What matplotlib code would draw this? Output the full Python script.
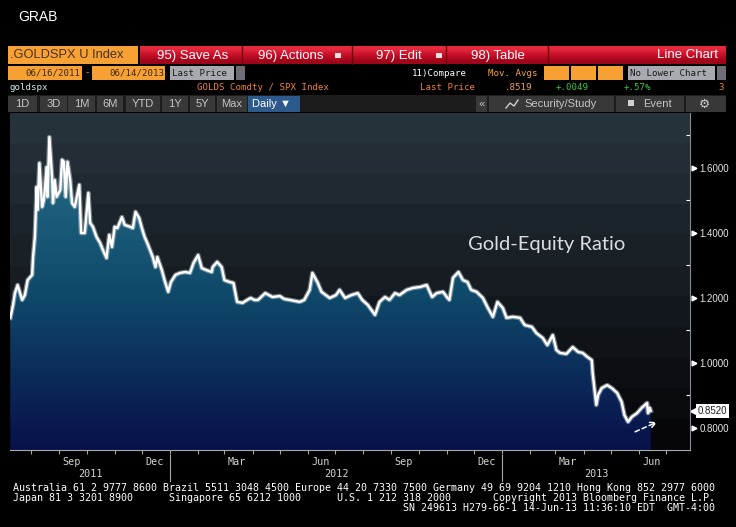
import numpy as np
import pandas as pd
import matplotlib
matplotlib.use("Agg")
import matplotlib.pyplot as plt
import matplotlib.dates as mdates
from matplotlib.patches import Rectangle

plt.rcParams['font.family'] = ['Liberation Sans', 'DejaVu Sans']

# GOLDS Comdty / SPX Index
dates = ["2011-07-09", "2011-07-12", "2011-07-14", "2011-07-17", "2011-07-22", "2011-07-25",
         "2011-07-28", "2011-08-02", "2011-08-03", "2011-08-05", "2011-08-07", "2011-08-08",
         "2011-08-10", "2011-08-13", "2011-08-15", "2011-08-18", "2011-08-19", "2011-08-21",
         "2011-08-24", "2011-08-25", "2011-08-27", "2011-08-29", "2011-09-02", "2011-09-04",
         "2011-09-06", "2011-09-08", "2011-09-10", "2011-09-13", "2011-09-15", "2011-09-18",
         "2011-09-23", "2011-09-25", "2011-09-29", "2011-10-03", "2011-10-05", "2011-10-08",
         "2011-10-12", "2011-10-16", "2011-10-19", "2011-10-23", "2011-10-26", "2011-10-29",
         "2011-11-01", "2011-11-04", "2011-11-09", "2011-11-12", "2011-11-18", "2011-11-21",
         "2011-11-24", "2011-11-28", "2011-12-01", "2011-12-04", "2011-12-07", "2011-12-13",
         "2011-12-16", "2011-12-18", "2011-12-23", "2011-12-26", "2011-12-30", "2012-01-02",
         "2012-01-07", "2012-01-12", "2012-01-18", "2012-01-23", "2012-01-27", "2012-02-01",
         "2012-02-05", "2012-02-10", "2012-02-16", "2012-02-17", "2012-02-22", "2012-02-27",
         "2012-03-01", "2012-03-07", "2012-03-11", "2012-03-15", "2012-03-21", "2012-03-26",
         "2012-03-30", "2012-04-03", "2012-04-07", "2012-04-15", "2012-04-23", "2012-05-01",
         "2012-05-06", "2012-05-12", "2012-05-23", "2012-05-28", "2012-06-03", "2012-06-06",
         "2012-06-12", "2012-06-16", "2012-06-25", "2012-07-02", "2012-07-06", "2012-07-12",
         "2012-07-19", "2012-07-26", "2012-07-31", "2012-08-06", "2012-08-14", "2012-08-19",
         "2012-08-25", "2012-08-30", "2012-09-05", "2012-09-10", "2012-09-18", "2012-09-25",
         "2012-10-03", "2012-10-10", "2012-10-16", "2012-10-21", "2012-10-28", "2012-11-02",
         "2012-11-04", "2012-11-08", "2012-11-14", "2012-11-19", "2012-11-24", "2012-11-28",
         "2012-12-04", "2012-12-11", "2012-12-16", "2012-12-22", "2012-12-27", "2013-01-02",
         "2013-01-06", "2013-01-13", "2013-01-21", "2013-01-26", "2013-02-03", "2013-02-08",
         "2013-02-15", "2013-02-20", "2013-02-26", "2013-03-02", "2013-03-06", "2013-03-13",
         "2013-03-20", "2013-03-26", "2013-03-31", "2013-04-05", "2013-04-10", "2013-04-11",
         "2013-04-15", "2013-04-17", "2013-04-21", "2013-04-27", "2013-05-02", "2013-05-08",
         "2013-05-13", "2013-05-16", "2013-05-20", "2013-05-24", "2013-05-30", "2013-06-04",
         "2013-06-10", "2013-06-11", "2013-06-13", "2013-06-14"]
ratio = [1.138, 1.178, 1.214, 1.239, 1.193, 1.208,
         1.254, 1.270, 1.325, 1.387, 1.541, 1.470,
         1.614, 1.479, 1.501, 1.602, 1.510, 1.694,
         1.571, 1.491, 1.562, 1.510, 1.531, 1.624,
         1.618, 1.510, 1.618, 1.562, 1.491, 1.479,
         1.547, 1.399, 1.399, 1.522, 1.430, 1.418,
         1.387, 1.368, 1.347, 1.322, 1.393, 1.356,
         1.418, 1.414, 1.448, 1.424, 1.418, 1.414,
         1.464, 1.445, 1.414, 1.387, 1.368, 1.325,
         1.294, 1.325, 1.285, 1.254, 1.218, 1.248,
         1.270, 1.276, 1.279, 1.276, 1.307, 1.331,
         1.291, 1.285, 1.279, 1.294, 1.310, 1.294,
         1.254, 1.248, 1.245, 1.187, 1.184, 1.193,
         1.199, 1.193, 1.193, 1.214, 1.202, 1.205,
         1.196, 1.193, 1.187, 1.193, 1.224, 1.276,
         1.245, 1.218, 1.199, 1.208, 1.224, 1.199,
         1.208, 1.214, 1.193, 1.178, 1.147, 1.187,
         1.202, 1.193, 1.214, 1.208, 1.224, 1.230,
         1.233, 1.239, 1.202, 1.214, 1.218, 1.199,
         1.193, 1.261, 1.279, 1.254, 1.248, 1.224,
         1.218, 1.199, 1.171, 1.141, 1.187, 1.168,
         1.138, 1.141, 1.138, 1.116, 1.110, 1.091,
         1.076, 1.054, 1.085, 1.039, 1.030, 1.027,
         1.048, 1.033, 1.030, 1.018, 1.008, 0.968,
         0.870, 0.901, 0.922, 0.931, 0.922, 0.907,
         0.879, 0.839, 0.818, 0.833, 0.845, 0.861,
         0.876, 0.845, 0.861, 0.852]

y_major = [0.8, 1.0, 1.2, 1.4, 1.6]
y_minor = [0.9, 1.1, 1.3, 1.5, 1.7]
month_labels = ["Sep", "Dec", "Mar", "Jun", "Sep", "Dec", "Mar", "Jun"]
month_label_dates = ["2011-09-15", "2011-12-15", "2012-03-15", "2012-06-15",
                     "2012-09-15", "2012-12-15", "2013-03-15", "2013-06-15"]
year_labels = ["2011", "2012", "2013"]
year_starts = ["2012-01-01", "2013-01-01"]

footer = [
    "Australia 61 2 9777 8600 Brazil 5511 3048 4500 Europe 44 20 7330 7500 Germany 49 69 9204 1210 Hong Kong 852 2977 6000",
    "Japan 81 3 3201 8900      Singapore 65 6212 1000      U.S. 1 212 318 2000       Copyright 2013 Bloomberg Finance L.P.",
    "                                                                 SN 249613 H279-66-1 14-Jun-13 11:36:10 EDT  GMT-4:00",
]

ORANGE = '#f7a134'
mono = 'DejaVu Sans Mono'
small = 6.6

fig = plt.figure(figsize=(7.36, 5.27), dpi=100, facecolor='black')

# ---------- terminal frame (pixel coordinates) ----------
bg = fig.add_axes([0, 0, 1, 1])
bg.axis('off')


def box(x0, y0, x1, y1, color):
    bg.add_patch(Rectangle((x0, y0), x1 - x0, y1 - y0, facecolor=color, edgecolor='none'))


bg.text(18, 17, "GRAB", color='white', fontsize=10, va='center')

# red title bar
box(8, 46, 138, 64, ORANGE)
bg.text(10, 55.5, ".GOLDSPX U Index", color='#4a3222', fontsize=9.3, va='center')
red = np.array([[[0.90, 0.16, 0.24]], [[0.78, 0.06, 0.16]], [[0.62, 0.02, 0.10]]])
bg.imshow(red, extent=(140, 726, 64, 46), aspect='auto', interpolation='bilinear')
for xs in [242, 352, 446, 548]:
    bg.plot([xs, xs], [46, 64], color='#6a0010', lw=1)
for label, xt in [("95) Save As", 157), ("96) Actions", 258), ("97) Edit", 376), ("98) Table", 471)]:
    bg.text(xt, 55.5, label, color='white', fontsize=9.5, va='center')
for xd in [335, 436]:
    box(xd, 53, xd + 6, 58, '#f0e0e0')
bg.text(718, 55.5, "Line Chart", color='white', fontsize=9.5, va='center', ha='right')

# date range row
box(8, 66, 82, 80, ORANGE)
bg.text(80, 73, "06/16/2011", color='#3a2a1a', fontsize=small, family=mono, va='center', ha='right')
bg.text(84, 73, "-", color=ORANGE, fontsize=small, family=mono, va='center')
box(92, 66, 165, 80, ORANGE)
bg.text(164, 73, "06/14/2013", color='#3a2a1a', fontsize=small, family=mono, va='center', ha='right')
box(170, 66, 234, 80, '#a9a9b0')
bg.text(172, 73, "Last Price", color='#1a1a1a', fontsize=small, family=mono, va='center')
box(236, 66, 245, 80, '#6e6e74')
bg.text(412, 73, "11)Compare", color='white', fontsize=small, family=mono, va='center')
bg.text(488, 73, "Mov. Avgs", color=ORANGE, fontsize=small, family=mono, va='center')
for xo in [544, 571, 598]:
    box(xo, 66, xo + 25, 80, ORANGE)
box(628, 66, 715, 80, '#a9a9b0')
bg.text(630, 73, "No Lower Chart", color='#1a1a1a', fontsize=small, family=mono, va='center')
box(717, 66, 726, 80, '#6e6e74')

# security row
bg.text(10, 88, "goldspx", color='#cdeeee', fontsize=small, family=mono, va='center')
bg.text(197, 88, "GOLDS Comdty / SPX Index", color='#f0803a', fontsize=small, family=mono, va='center')
bg.text(420, 88, "Last Price", color='#f0803a', fontsize=small, family=mono, va='center')
bg.text(505, 88, ".8519", color='#f0a060', fontsize=small, family=mono, va='center')
bg.text(556, 88, "+.0049", color='#3cc83c', fontsize=small, family=mono, va='center')
bg.text(624, 88, "+.57%", color='#3cc83c', fontsize=small, family=mono, va='center')
bg.text(724, 88, "3", color='#f0803a', fontsize=small, family=mono, va='center', ha='right')

# period buttons
box(8, 95, 726, 112, '#1c1c1c')
for label, x0, x1 in [("1D", 8, 37), ("3D", 40, 67), ("1M", 68, 95), ("6M", 97, 123),
                      ("YTD", 126, 160), ("1Y", 162, 188), ("5Y", 190, 215), ("Max", 217, 247)]:
    box(x0, 96, x1, 112, '#383838')
    bg.text((x0 + x1) / 2, 104, label, color='#c4c4c4', fontsize=8, va='center', ha='center')
box(248, 96, 300, 112, '#2c5a8c')
bg.text(252, 104, "Daily \u25bc", color='white', fontsize=8, va='center')
box(476, 96, 487, 112, '#383838')
bg.text(481.5, 104, "\u00ab", color='#c4c4c4', fontsize=8, va='center', ha='center')
box(489, 96, 614, 112, '#383838')
bg.plot([506, 510, 514, 518], [108, 103, 106, 100], color='#d0d0d0', lw=1)
bg.text(524, 104, "Security/Study", color='#c4c4c4', fontsize=8, va='center')
box(616, 96, 684, 112, '#383838')
box(628, 100, 634, 106, '#d0d0d0')
bg.text(643, 104, "Event", color='#c4c4c4', fontsize=8, va='center')
box(686, 96, 726, 112, '#383838')
bg.text(704, 104, "\u2699", color='#d0d0d0', fontsize=9, va='center', ha='center', family='DejaVu Sans')

# footer
for i, line in enumerate(footer):
    bg.text(13, 488 + 10 * i, line, color='white', fontsize=7.2, family=mono, va='center')

bg.set_xlim(0, 736)
bg.set_ylim(527, 0)

# ---------- chart ----------
ax = fig.add_axes([10 / 736, 77 / 527, 680 / 736, 337 / 527])
x = mdates.date2num(pd.to_datetime(dates))
y = np.array(ratio)

jan12 = mdates.date2num(pd.Timestamp(year_starts[0]))
jan13 = mdates.date2num(pd.Timestamp(year_starts[1]))
x0, x1 = jan12 - 176.4, jan13 + 207.3
y0, y1 = 0.7314, 1.768
ax.set_xlim(x0, x1)
ax.set_ylim(y0, y1)
ax.set_facecolor('black')

# banded background
n_bands = 11
top, bot = np.array([38, 50, 58]) / 255, np.array([6, 6, 10]) / 255
bands = np.array([top + (bot - top) * t for t in np.linspace(0, 1, n_bands)])[:, None, :]
ax.imshow(bands, extent=(x0, x1, y0, y1), aspect='auto', interpolation='nearest', zorder=0)

# gradient under the line
stops_t = [0.0, 0.55, 1.0]
stops_c = np.array([[42, 118, 142], [15, 72, 105], [8, 16, 74]]) / 255
tt = np.linspace(0, 1, 256)
grad = np.stack([np.interp(tt, stops_t, stops_c[:, k]) for k in range(3)], axis=1)[:, None, :]
im = ax.imshow(grad, extent=(x0, x1, y0, y1), aspect='auto', interpolation='bilinear', zorder=1)
area = ax.fill_between(x, y, y0, facecolor='none', edgecolor='none')
im.set_clip_path(area.get_paths()[0], transform=ax.transData)

ax.plot(x, y, color='#b8c4cc', lw=3.4, alpha=0.55, zorder=2)
ax.plot(x, y, color='white', lw=1.7, zorder=3)

# trend arrow
ax.annotate('', xy=(x[-1] + 10, 0.821), xytext=(x[-1] - 20, 0.784),
            arrowprops=dict(arrowstyle='->', color='white', lw=1.1, ls=(0, (3, 2))), zorder=4)

ax.text(0.673, 0.61, "Gold-Equity Ratio", transform=ax.transAxes, color='#d9dde2', fontsize=14.5,
        va='center', ha='left', family=['Lato', 'DejaVu Sans'], zorder=5)

for s in ['top', 'left']:
    ax.spines[s].set_visible(False)
ax.spines['bottom'].set_color('#a8a8a8')
ax.spines['bottom'].set_linewidth(0.8)
ax.spines['right'].set_color('#8a8a8a')
ax.spines['right'].set_linewidth(0.8)

# y axis on the right
ax.yaxis.tick_right()
ax.set_yticks(y_major)
ax.set_yticklabels([f"{v:.4f}" for v in y_major])
ax.set_yticks(y_minor, minor=True)
ax.tick_params(axis='y', which='major', length=0, pad=7, labelcolor='#e4e4e4', labelsize=7)
ax.tick_params(axis='y', which='minor', direction='in', length=3, color='white', width=0.8)
ytr = ax.get_yaxis_transform()
ax.plot(np.full(len(y_major), 1.006), y_major, ls='none', marker='>', ms=3.5, color='white',
        transform=ytr, clip_on=False)

# last price tag
ax.plot([1.007], [y[-1]], ls='none', marker='<', ms=7, color='white', transform=ytr, clip_on=False)
ax.text(1.011, y[-1], f"{y[-1]:.4f}", transform=ytr, va='center', ha='left', color='#202020',
        fontsize=7, bbox=dict(boxstyle='square,pad=0.2', fc='white', ec='none'))

# x axis
ax.xaxis.set_minor_locator(mdates.MonthLocator())
ax.set_xticks(mdates.date2num(pd.to_datetime(month_label_dates)))
ax.set_xticklabels(month_labels)
ax.tick_params(axis='x', which='major', length=0, pad=5, labelcolor='#d4d4d4', labelsize=7.3)
ax.tick_params(axis='x', which='minor', length=3, color='#a8a8a8', width=0.8)
for lab in ax.get_xticklabels():
    lab.set_family(mono)

xtr = ax.get_xaxis_transform()
for xs in [jan12, jan13]:
    ax.plot([xs, xs], [-0.015, -0.092], color='#a8a8a8', lw=0.8, transform=xtr, clip_on=False)
year_edges = [x0, jan12, jan13, x1]
for i, lab in enumerate(year_labels):
    ax.text((year_edges[i] + year_edges[i + 1]) / 2, -0.071, lab, transform=xtr, ha='center',
            va='center', color='#d4d4d4', fontsize=7.3, family=mono)

fig.savefig('out.png', dpi=100, facecolor='black')
